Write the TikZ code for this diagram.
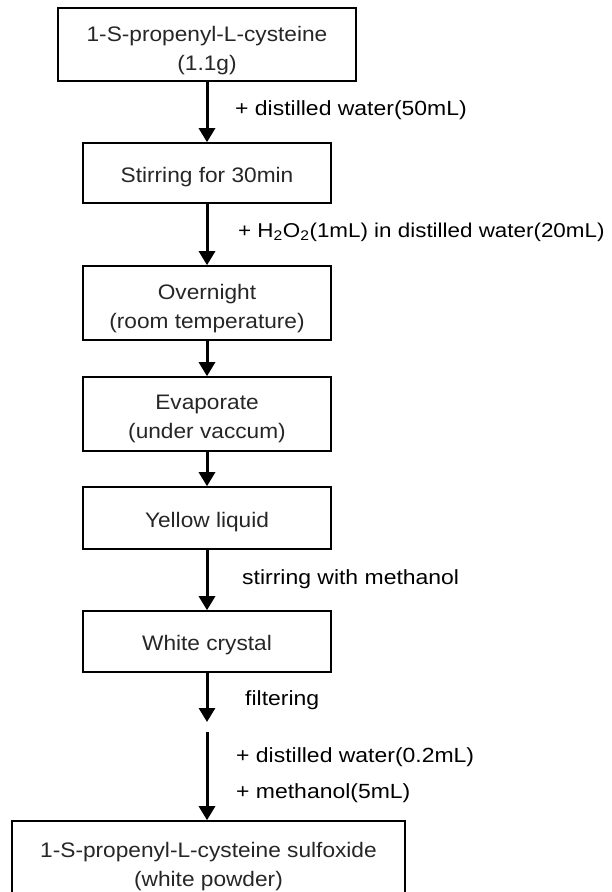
\documentclass[tikz,border=0pt]{standalone}
\usepackage{fontspec}
\setmainfont{Liberation Sans}
\newfontfamily\boxfont[FakeStretch=1.08]{Liberation Sans}
\newfontfamily\labfont[FakeStretch=1.12]{Liberation Sans}
\usetikzlibrary{arrows.meta}
\begin{document}
\begin{tikzpicture}[x=1pt,y=-1pt,
  stepbox/.style={draw, line width=1.6pt, inner sep=0pt},
  boxtext/.style={align=center, font=\boxfont\fontsize{21}{29}\selectfont,
    text=black!85, inner sep=0pt},
  flow/.style={line width=3pt, -{Triangle[width=16pt,length=14pt]}},
  lab/.style={anchor=west, font=\labfont\fontsize{20.5}{24}\selectfont, inner sep=0pt}]
\useasboundingbox (0,0) rectangle (612,892);
\clip (0,0) rectangle (612,892);

\node[stepbox, minimum width=298pt, minimum height=73pt] (b1) at (207,44.5) {};
\node[stepbox, minimum width=248pt, minimum height=60pt] (b2) at (207,173) {};
\node[stepbox, minimum width=248pt, minimum height=74pt] (b3) at (207,303) {};
\node[stepbox, minimum width=248pt, minimum height=74pt] (b4) at (207,414) {};
\node[stepbox, minimum width=248pt, minimum height=62pt] (b5) at (207,518) {};
\node[stepbox, minimum width=248pt, minimum height=61pt] (b6) at (207,641.5) {};
\node[stepbox, minimum width=393pt, minimum height=84pt] (b7) at (208.5,863) {};

\node[boxtext] (t1) at (207,51) {1-S-propenyl-L-cysteine\\(1.1g)};
\node[boxtext] (t2) at (207,177) {Stirring for 30min};
\node[boxtext] (t3) at (207,308.5) {Overnight\\(room temperature)};
\node[boxtext] (t4) at (207,418.5) {Evaporate\\(under vaccum)};
\node[boxtext] (t5) at (207,522) {Yellow liquid};
\node[boxtext] (t6) at (207,645) {White crystal};
\node[boxtext] (t7) at (208.5,866.5) {1-S-propenyl-L-cysteine sulfoxide\\(white powder)};

\coordinate (f1) at (207,722);
\coordinate (f2) at (207,732);

\draw[flow] (b1) -- (b2);
\draw[flow] (b2) -- (b3);
\draw[flow] (b3) -- (b4);
\draw[flow] (b4) -- (b5);
\draw[flow] (b5) -- (b6);
\draw[flow] (b6) -- (f1);
\draw[flow] (f2) -- (f2 |- b7.north);

\node[lab] (l1) at (235,110) {+ distilled water(50mL)};
\node[lab, font=\labfont\fontsize{20}{24}\selectfont] (l2) at (238,232) {+ H\textsubscript{2}O\textsubscript{2}(1mL) in distilled water(20mL)};
\node[lab] (l3) at (242,579) {stirring with methanol};
\node[lab] (l4) at (245,700) {filtering};
\node[lab] (l5) at (236,757) {+ distilled water(0.2mL)};
\node[lab] (l6) at (236,793) {+ methanol(5mL)};
\end{tikzpicture}
\end{document}
